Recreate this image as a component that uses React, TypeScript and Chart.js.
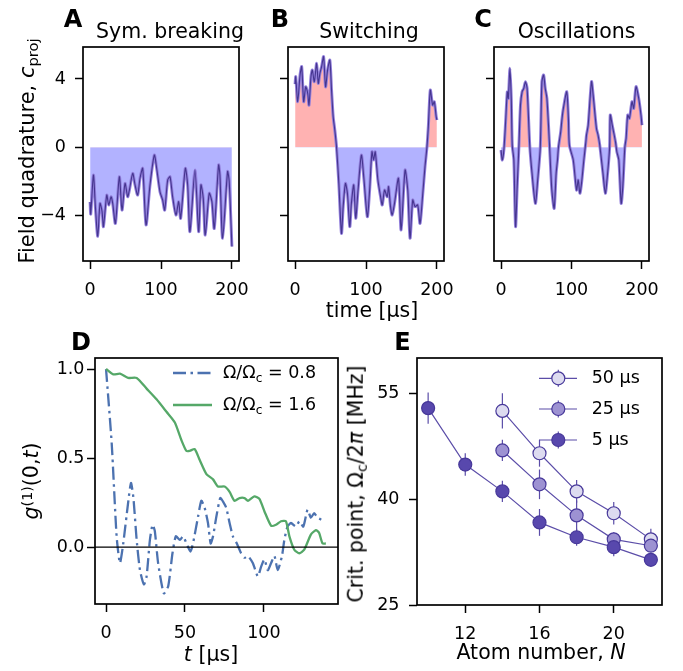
import React, { useEffect, useRef } from "react";
import { Chart, registerables } from "chart.js";

Chart.register(...registerables);
Chart.defaults.font.family = "'DejaVu Sans', sans-serif";

const FONT = "'DejaVu Sans', sans-serif";
const TICK_FONT = { family: "'DejaVu Sans', sans-serif", size: 17.5 };

// ---------- Panels A-C: field quadrature traces ----------
const symTime = [0, 0.9, 4.7, 7.5, 10.8, 14, 16.9, 18.8, 23.5, 26.3, 29.6, 31.9, 35.7, 41.3, 45, 49.3, 53, 55.4, 60.1, 63.4, 67.1, 70.4, 74.2, 78.9, 84.5, 90.6, 93.9, 98.6, 102.3, 105.2, 109.4, 112.7, 116.4, 121.1, 124.9, 127.7, 134.3, 137.6, 140.8, 147.9, 153.1, 156.3, 159.6, 162.4, 168, 171.8, 175.1, 181.2, 183.1, 186.9, 193.9, 196.2, 200];
const symField = [-3.2, -3.9, -1.62, -3.5, -5.2, -3.28, -3.76, -4.64, -2.79, -3.37, -2.89, -3.28, -4.45, -1.72, -3.67, -2.11, -2.89, -2.5, -1.52, -2.2, -2.79, -1.81, -1.23, -4.54, -2.2, -0.45, -1.23, -2.6, -3.08, -3.67, -1.91, -1.72, -2.89, -3.96, -3.18, -4.15, -1.23, -2.2, -4.93, -1.33, -4.93, -2.2, -2.98, -5.13, -2.69, -3.18, -4.74, -1.03, -1.62, -5.32, -1.42, -2.0, -5.8];

const swTime = [0, 0.9, 3.7, 7, 9.3, 12.1, 15, 17.8, 19.6, 22.4, 24.3, 27.1, 30.4, 32.7, 35, 37.4, 40.2, 43, 45.8, 49, 51.4, 53.7, 56, 58.4, 61.7, 65.4, 67.8, 71, 73.8, 77.1, 79.4, 82.7, 85.5, 88.8, 93.5, 97.2, 101.9, 105.1, 108.4, 110.7, 113, 116.8, 120.6, 122.9, 126.2, 129.9, 131.8, 134.6, 136.9, 140.2, 145.8, 149.5, 155.1, 158.9, 162.1, 165.9, 169.2, 172.9, 176.2, 179.9, 183.2, 186, 187.9, 190.7, 194, 196.3, 199, 200];
const swField = [3.7, 4.13, 2.67, 4.23, 4.72, 2.67, 3.54, 3.16, 2.47, 4.13, 4.52, 3.84, 4.91, 3.74, 4.33, 4.72, 5.3, 3.54, 4.52, 5.1, 3.35, 1.79, 1.01, 0.04, -2.11, -5.03, -3.47, -2.11, -2.69, -4.64, -3.28, -2.2, -4.15, -2.5, -0.45, -1.91, -4.06, -2.5, -0.26, -0.74, -0.26, -1.91, -2.89, -3.37, -2.5, -2.89, -2.3, -3.47, -3.96, -3.28, -1.81, -4.83, -1.33, -2.5, -5.32, -3.08, -3.47, -3.37, -4.45, -2.79, -1.13, 0.04, 1.2, 3.35, 2.47, 2.67, 1.79, 1.6];

const oscTime = [0, 1.8, 4.2, 6.5, 8.9, 10.3, 12.6, 14.5, 15.9, 18.2, 20.6, 22.9, 25.3, 27.6, 29.9, 32.3, 34.6, 37, 40.7, 44, 48.7, 52, 55.7, 58, 60.4, 62.7, 65.1, 68.8, 72.1, 75.4, 78.2, 80.1, 81.5, 84.7, 86.6, 88.5, 93.2, 95.6, 97, 102.5, 107.2, 109.5, 111.9, 114.2, 117.5, 120.4, 121.3, 123.7, 128.4, 130.7, 135.4, 137.7, 140.1, 144.7, 148, 150.8, 154.1, 155, 157.8, 159.7, 162.5, 164.4, 167.2, 170.5, 172.8, 175.7, 177.5, 179.8, 182.2, 185.9, 188.3, 191.6, 195.4, 198.6, 200];
const oscField = [-0.16, -0.74, -0.06, 1.5, 3.25, 2.86, 4.62, 2.86, 0.13, -0.74, -4.64, -2.3, 0, 2.47, 3.25, 3.45, 3.84, 3.45, 0.13, -1.52, -3.28, -1.91, 0, 3.84, 4.23, 3.45, 2.86, 0.13, -2.5, -3.57, -1.52, -0.74, 0, 0.91, 1.69, 2.28, 3.25, 1.69, 0.13, -0.74, -2.5, -1.91, -2.69, -2.11, -0.74, 0.33, 0.72, 1.3, 3.84, 3.06, 1.1, 0.72, 0.13, -1.52, -2.69, -1.72, 0, 1.89, 1.3, 0.91, 0.3, -0.26, -0.74, -3.28, -2.3, 0, 0.52, 1.89, 1.69, 2.67, 2.28, 3.55, 2.86, 1.89, 1.3];

const timeTicks = [0, 100, 200];
const quadTicks = [-4, 0, 4];

// ---------- Panel D: coherence ----------
const g1TimeLow = [0, 3.6, 6.7, 8.8, 10.9, 14, 15.8, 17.3, 19.4, 21.5, 24, 25.7, 27.8, 29.5, 30.9, 33, 36.6, 39.4, 42.1, 44.2, 46.8, 48.8, 51, 53.5, 55.1, 58.3, 60.4, 62.5, 64.6, 66.3, 67.8, 69.9, 72.4, 74.5, 76.2, 78.3, 80.4, 82.9, 85.6, 87.8, 89.9, 93, 96.2, 98.3, 100.4, 102.5, 104.6, 106.7, 108.8, 111.5, 113, 115, 117.2, 120.4, 122.5, 125, 127.7, 129.8, 131.9, 134, 136.2, 138.9];
const g1Low = [1.0, 0.58, 0.06, -0.09, 0.02, 0.25, 0.36, 0.28, 0.04, -0.13, -0.21, -0.165, 0.04, 0.125, 0.09, -0.09, -0.26, -0.22, -0.035, 0.06, 0.04, 0.06, 0.02, -0.025, 0.02, 0.17, 0.26, 0.22, 0.135, 0.02, 0.06, 0.17, 0.275, 0.25, 0.22, 0.135, 0.06, 0.02, -0.035, -0.06, -0.05, -0.09, -0.165, -0.11, -0.07, -0.13, -0.09, -0.05, -0.13, -0.05, 0.04, 0.115, 0.135, 0.115, 0.145, 0.115, 0.21, 0.165, 0.19, 0.165, 0.155, 0.145];
const g1TimeHigh = [0, 4.6, 8.8, 14, 19.4, 25.7, 32, 38.3, 43.6, 47.8, 50.9, 53, 56.2, 59.3, 63.6, 67.8, 70.9, 75.1, 78.3, 81.4, 84.6, 87.8, 89.9, 94, 97.2, 100.4, 104.6, 107.7, 110.9, 114, 116.2, 119.3, 122.5, 125.6, 129.8, 133, 135, 137.2, 139.3];
const g1High = [1.0, 0.97, 0.974, 0.95, 0.95, 0.89, 0.83, 0.76, 0.7, 0.6, 0.54, 0.54, 0.55, 0.49, 0.41, 0.38, 0.34, 0.34, 0.31, 0.26, 0.275, 0.275, 0.26, 0.285, 0.27, 0.2, 0.12, 0.125, 0.145, 0.145, 0.06, -0.015, -0.035, -0.015, 0.07, 0.095, 0.08, 0.02, 0.02];
const g1TicksX = [0, 50, 100];
const g1TicksY = [0, 0.5, 1];

// ---------- Panel E: critical point ----------
const atomsShort = [10, 12, 14, 16, 18, 20, 22];
const atomsLong = [14, 16, 18, 20, 22];
const crit5 = [52.9, 44.9, 41.1, 36.7, 34.6, 33.2, 31.4];
const err5 = [2.2, 1.6, 1.5, 1.9, 1.2, 1.3, 0.8];
const crit25 = [46.9, 42.1, 37.7, 34.3, 33.4];
const err25 = [1.5, 2.1, 2.1, 1.0, 0.7];
const crit50 = [52.5, 46.5, 41.1, 38.0, 34.3];
const err50 = [2.5, 1.9, 1.6, 1.6, 1.5];
const atomTicks = [12, 16, 20];
const critTicks = [25, 40, 55];

// ---------- styles ----------
const RED = "rgb(255,178,178)";
const BLUE = "rgb(178,178,255)";
const BAND = "#9380dc";
const CORE = "#45358f";
const D_BLUE = "#4c72b0";
const D_GREEN = "#55a868";
const E_LINE = "#5b4da8";
const E_EDGE = "#47389a";
const E_5 = "#5848ad";
const E_25 = "#9d92d2";
const E_50 = "#dddbf0";
const DASHDOT = [13, 4.5, 2.5, 4.5];

const fmtInt = (v: number) => (v < 0 ? "\u2212" + Math.abs(v) : String(v));
const fmtOne = (v: number) => v.toFixed(1);
const blank = () => "";

function scale(min: number, max: number, ticks: number[], fixed: number, horizontal: boolean, pad: number, fmt: any) {
  return {
    type: "linear",
    min,
    max,
    bounds: "data",
    afterBuildTicks: (s: any) => {
      s.ticks = ticks.map((v) => ({ value: v }));
    },
    afterFit: (s: any) => {
      if (horizontal) s.height = fixed;
      else s.width = fixed;
    },
    grid: { display: true, drawOnChartArea: false, drawTicks: true, tickLength: 8, tickWidth: 1.5, tickColor: "#000" },
    border: { display: false },
    ticks: { font: TICK_FONT, color: "#000", padding: pad, maxRotation: 0, minRotation: 0, autoSkip: false, callback: fmt },
  };
}

const framePlugin = {
  id: "frame",
  afterDatasetsDraw(chart: any) {
    const { ctx, chartArea: a } = chart;
    ctx.save();
    ctx.strokeStyle = "#000";
    ctx.lineWidth = 1.7;
    ctx.strokeRect(a.left, a.top, a.right - a.left, a.bottom - a.top);
    ctx.restore();
  },
};

const baseOptions = (padRight: number) => ({
  responsive: false,
  animation: false,
  devicePixelRatio: 1,
  events: [],
  layout: { padding: { top: 24, right: padRight, left: 0, bottom: 0 } },
  plugins: { legend: { display: false }, tooltip: { enabled: false }, title: { display: false } },
});

function quadConfig(times: number[], vals: number[], showY: boolean) {
  const pts = times.map((t, i) => ({ x: t, y: vals[i] }));
  return {
    type: "line",
    data: {
      datasets: [
        { data: pts, borderColor: CORE, borderWidth: 1.1, pointRadius: 0, fill: false, tension: 0.25 },
        { data: pts, borderColor: BAND, borderWidth: 3.0, pointRadius: 0, tension: 0.25, fill: { target: { value: 0 }, above: RED, below: BLUE } },
      ],
    },
    options: {
      ...baseOptions(26),
      scales: {
        x: scale(-10, 210, timeTicks, 45, true, 11, fmtInt),
        y: scale(-6.65, 5.87, quadTicks, 60, false, 9, showY ? fmtInt : blank),
      },
    },
    plugins: [framePlugin],
  };
}

const D_LEFT = 35, D_TOP = 334;
const dLegend = [
  { color: D_BLUE, dash: DASHDOT, y: 373 },
  { color: D_GREEN, dash: [] as number[], y: 405 },
];

const zeroLinePlugin = {
  id: "zeroLine",
  afterDatasetsDraw(chart: any) {
    const { ctx, chartArea: a, scales } = chart;
    const y = scales.y.getPixelForValue(0);
    ctx.save();
    ctx.strokeStyle = "#000";
    ctx.lineWidth = 1.3;
    ctx.beginPath();
    ctx.moveTo(a.left, y);
    ctx.lineTo(a.right, y);
    ctx.stroke();
    dLegend.forEach((it) => {
      ctx.strokeStyle = it.color;
      ctx.lineWidth = 2.3;
      ctx.setLineDash(it.dash);
      ctx.beginPath();
      ctx.moveTo(173 - D_LEFT, it.y - D_TOP);
      ctx.lineTo(212 - D_LEFT, it.y - D_TOP);
      ctx.stroke();
    });
    ctx.restore();
  },
};

function g1Config() {
  return {
    type: "line",
    data: {
      datasets: [
        { data: g1TimeHigh.map((t, i) => ({ x: t, y: g1High[i] })), borderColor: D_GREEN, borderWidth: 2.3, pointRadius: 0, fill: false, tension: 0.2 },
        { data: g1TimeLow.map((t, i) => ({ x: t, y: g1Low[i] })), borderColor: D_BLUE, borderWidth: 2.3, borderDash: DASHDOT, pointRadius: 0, fill: false, tension: 0.2 },
      ],
    },
    options: {
      ...baseOptions(14),
      scales: {
        x: scale(-7, 147, g1TicksX, 45, true, 11, fmtInt),
        y: scale(-0.32, 1.062, g1TicksY, 60, false, 2.5, fmtOne),
      },
    },
    plugins: [zeroLinePlugin, framePlugin],
  };
}

const E_LEFT = 357, E_TOP = 334;
const eLegend = [
  { fill: E_50, y: 378.3 },
  { fill: E_25, y: 409 },
  { fill: E_5, y: 440 },
];

const errorBarPlugin = {
  id: "errbars",
  beforeDatasetsDraw(chart: any) {
    const { ctx, scales } = chart;
    ctx.save();
    ctx.strokeStyle = E_LINE;
    ctx.lineWidth = 1.2;
    chart.data.datasets.forEach((ds: any) => {
      ds.data.forEach((p: any, j: number) => {
        const x = scales.x.getPixelForValue(p.x);
        const y1 = scales.y.getPixelForValue(p.y - ds.errors[j]);
        const y2 = scales.y.getPixelForValue(p.y + ds.errors[j]);
        ctx.beginPath();
        ctx.moveTo(x, y1);
        ctx.lineTo(x, y2);
        ctx.stroke();
      });
    });
    ctx.restore();
  },
  afterDatasetsDraw(chart: any) {
    const { ctx } = chart;
    ctx.save();
    eLegend.forEach((it) => {
      const cx = 558.3 - E_LEFT;
      const cy = it.y - E_TOP;
      ctx.strokeStyle = E_LINE;
      ctx.lineWidth = 1.2;
      ctx.beginPath();
      ctx.moveTo(539 - E_LEFT, cy);
      ctx.lineTo(577 - E_LEFT, cy);
      ctx.moveTo(cx, cy - 8.5);
      ctx.lineTo(cx, cy + 8.5);
      ctx.stroke();
      ctx.beginPath();
      ctx.arc(cx, cy, 6.5, 0, Math.PI * 2);
      ctx.fillStyle = it.fill;
      ctx.fill();
      ctx.strokeStyle = E_EDGE;
      ctx.stroke();
    });
    ctx.restore();
  },
};

function critSeries(ns: number[], vals: number[], errs: number[], fill: string) {
  return {
    data: ns.map((n, i) => ({ x: n, y: vals[i] })),
    errors: errs,
    borderColor: E_LINE,
    borderWidth: 1.2,
    pointRadius: 6.5,
    pointBackgroundColor: fill,
    pointBorderColor: E_EDGE,
    pointBorderWidth: 1.2,
    fill: false,
    tension: 0,
  };
}

function critConfig() {
  return {
    type: "line",
    data: {
      datasets: [
        critSeries(atomsShort, crit5, err5, E_5),
        critSeries(atomsLong, crit25, err25, E_25),
        critSeries(atomsLong, crit50, err50, E_50),
      ],
    },
    options: {
      ...baseOptions(14),
      scales: {
        x: scale(9.4, 22.6, atomTicks, 45, true, 11, fmtInt),
        y: scale(25, 60, critTicks, 60, false, 9.5, fmtInt),
      },
    },
    plugins: [errorBarPlugin, framePlugin],
  };
}

function ChartBox({ left, top, width, height, make }: { left: number; top: number; width: number; height: number; make: () => any }) {
  const ref = useRef<HTMLCanvasElement>(null);
  useEffect(() => {
    const chart = new Chart(ref.current as HTMLCanvasElement, make());
    return () => chart.destroy();
  }, []);
  return <canvas ref={ref} width={width} height={height} style={{ position: "absolute", left, top, width, height }} />;
}

function Txt({ x, y, size = 20.5, bold = false, rotate = false, left = false, children }: any) {
  const transform = left ? "translate(0,-50%)" : "translate(-50%,-50%)" + (rotate ? " rotate(-90deg)" : "");
  return (
    <div
      style={{
        position: "absolute",
        left: x,
        top: y,
        transform,
        fontFamily: FONT,
        fontSize: size,
        fontWeight: bold ? "bold" : "normal",
        lineHeight: 1,
        whiteSpace: "nowrap",
        color: "#000",
      }}
    >
      {children}
    </div>
  );
}

const Sub = ({ children }: any) => <span style={{ fontSize: "0.7em", position: "relative", top: "0.3em" }}>{children}</span>;
const Sup = ({ children }: any) => <span style={{ fontSize: "0.7em", position: "relative", top: "-0.45em" }}>{children}</span>;
const I = ({ children }: any) => <span style={{ fontStyle: "italic" }}>{children}</span>;

export default function App() {
  return (
    <div style={{ position: "absolute", left: 0, top: 0, width: 683, height: 671, background: "#fff", overflow: "hidden", fontFamily: FONT }}>
      <ChartBox left={23} top={23} width={242} height={283} make={() => quadConfig(symTime, symField, true)} />
      <ChartBox left={228} top={23} width={242} height={283} make={() => quadConfig(swTime, swField, false)} />
      <ChartBox left={434} top={23} width={241} height={283} make={() => quadConfig(oscTime, oscField, false)} />
      <ChartBox left={D_LEFT} top={D_TOP} width={317} height={315} make={g1Config} />
      <ChartBox left={E_LEFT} top={E_TOP} width={319} height={316} make={critConfig} />

      <Txt x={73} y={18.7} size={24} bold>A</Txt>
      <Txt x={280} y={18.7} size={24} bold>B</Txt>
      <Txt x={483} y={18.7} size={24} bold>C</Txt>
      <Txt x={81} y={341.7} size={24} bold>D</Txt>
      <Txt x={402.5} y={341.7} size={24} bold>E</Txt>

      <Txt x={170} y={30.5}>Sym. breaking</Txt>
      <Txt x={369} y={30.5}>Switching</Txt>
      <Txt x={576.5} y={30.5}>Oscillations</Txt>

      <Txt x={26.8} y={151} rotate size={21}>
        Field quadrature, <I>c</I>
        <Sub>proj</Sub>
      </Txt>
      <Txt x={372} y={310}>time [µs]</Txt>

      <Txt x={31} y={481} rotate>
        <I>g</I>
        <Sup>(1)</Sup>(0,<I>t</I>)
      </Txt>
      <Txt x={211} y={654}>
        <I>t</I> [µs]
      </Txt>
      <Txt x={223} y={373} size={17.5} left>
        Ω/Ω<Sub>c</Sub> = 0.8
      </Txt>
      <Txt x={223} y={405} size={17.5} left>
        Ω/Ω<Sub>c</Sub> = 1.6
      </Txt>

      <Txt x={355.5} y={484} rotate>
        Crit. point, Ω<Sub>c</Sub>/2<I>π</I> [MHz]
      </Txt>
      <Txt x={541} y={652}>
        Atom number, <I>N</I>
      </Txt>
      <Txt x={591.7} y={378.3} size={17.5} left>50 µs</Txt>
      <Txt x={591.7} y={409} size={17.5} left>25 µs</Txt>
      <Txt x={591.7} y={440} size={17.5} left>5 µs</Txt>
    </div>
  );
}
